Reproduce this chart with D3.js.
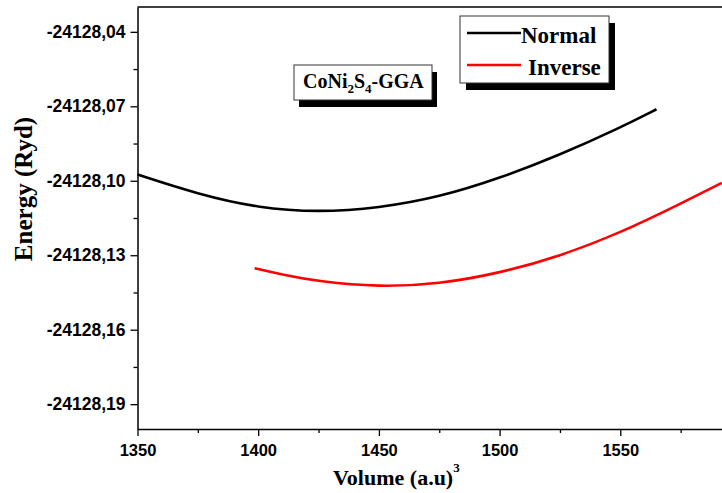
<!DOCTYPE html>
<html>
<head>
<meta charset="utf-8">
<script src="https://cdn.jsdelivr.net/npm/d3@7"></script>
<style>
  body { margin: 0; background: #fff; }
  svg { display: block; }
  .tick text { font-family: "Liberation Sans", Arial, sans-serif; font-weight: bold; fill: #000; }
  .serif { font-family: "Liberation Serif", "Times New Roman", serif; font-weight: bold; fill: #000; }
</style>
</head>
<body>
<svg id="chart" width="722" height="493"></svg>
<script>
// volumes (a.u)^3 and energies (Ryd)
var normalVol = [1350, 1375, 1400, 1425, 1450, 1475, 1500, 1525, 1550, 1565]
var normalE = [-24128.0975, -24128.1054, -24128.1110, -24128.1127, -24128.1110, -24128.1066, -24128.0990, -24128.0896, -24128.0786, -24128.0712]

var inverseVol = [1398.5, 1410, 1425, 1450, 1475, 1500, 1525, 1550, 1575, 1592]
var inverseE = [-24128.1352, -24128.1378, -24128.1406, -24128.1428, -24128.1416, -24128.1372, -24128.1304, -24128.1210, -24128.1092, -24128.1009]

var xMajor = [1350, 1400, 1450, 1500, 1550]
var xMinor = [1375, 1425, 1475, 1525, 1575]
var yMajor = [-24128.19, -24128.16, -24128.13, -24128.10, -24128.07, -24128.04]
var yMinor = [-24128.175, -24128.145, -24128.115, -24128.085, -24128.055]

var seriesNames = ["Normal", "Inverse"]
var seriesColors = ["#000000", "#ff0000"]

var svg = d3.select("#chart")

var x = d3.scaleLinear().domain([1350, 1600]).range([137.5, 741])
var y = d3.scaleLinear().domain([-24128.20, -24128.03]).range([429, 7])

// plain hyphen and decimal comma, like the original
var fmt = function(d) { return "-" + Math.abs(d).toFixed(2).replace(".", ",") }

// curves
var line = d3.line()
    .x(function(d) { return x(d[0]) })
    .y(function(d) { return y(d[1]) })
    .curve(d3.curveBasis)

var normalPts = normalVol.map(function(v, i) { return [v, normalE[i]] })
var inversePts = inverseVol.map(function(v, i) { return [v, inverseE[i]] })

svg.append("path").datum(normalPts)
    .attr("d", line).attr("fill", "none")
    .attr("stroke", seriesColors[0]).attr("stroke-width", 2.6)

svg.append("path").datum(inversePts)
    .attr("d", line).attr("fill", "none")
    .attr("stroke", seriesColors[1]).attr("stroke-width", 2.6)

// frame: top border
svg.append("line")
    .attr("x1", 137.5).attr("x2", 741).attr("y1", 7).attr("y2", 7)
    .attr("stroke", "#000").attr("stroke-width", 1.5)

// x axis
var xAxis = svg.append("g").attr("transform", "translate(0,429)")
    .call(d3.axisBottom(x).tickValues(xMajor).tickFormat(d3.format("d")).tickSize(7).tickPadding(8).tickSizeOuter(0))
xAxis.selectAll("text").style("font-size", "16.5px")
svg.append("g").attr("transform", "translate(0,429)")
    .call(d3.axisBottom(x).tickValues(xMinor).tickFormat("").tickSize(4).tickSizeOuter(0))
    .select(".domain").remove()

// y axis
var yAxis = svg.append("g").attr("transform", "translate(137.5,0)")
    .call(d3.axisLeft(y).tickValues(yMajor).tickFormat(fmt).tickSize(7).tickPadding(5).tickSizeOuter(0))
yAxis.selectAll("text").style("font-size", "17.5px")
svg.append("g").attr("transform", "translate(137.5,0)")
    .call(d3.axisLeft(y).tickValues(yMinor).tickFormat("").tickSize(4).tickSizeOuter(0))
    .select(".domain").remove()

svg.selectAll(".domain").attr("stroke-width", 1.5)
svg.selectAll(".tick line").attr("stroke-width", 1.3)

// axis titles
var xt = svg.append("text").attr("class", "serif")
    .attr("x", 333).attr("y", 485).style("font-size", "22px")
xt.append("tspan").text("Volume (a.u)")
xt.append("tspan").attr("dy", -13).style("font-size", "13px").text("3")

svg.append("text").attr("class", "serif")
    .attr("transform", "translate(32,189) rotate(-90)")
    .attr("text-anchor", "middle").style("font-size", "25px")
    .text("Energy (Ryd)")

// legend
svg.append("rect").attr("x", 466).attr("y", 23).attr("width", 149).attr("height", 67).attr("fill", "#000")
svg.append("rect").attr("x", 460).attr("y", 16).attr("width", 149).attr("height", 67)
    .attr("fill", "#fff").attr("stroke", "#333").attr("stroke-width", 1)

var legendY = [33, 65]
var legendTextX = [521, 528]
seriesNames.forEach(function(name, i) {
    svg.append("line")
        .attr("x1", 467).attr("x2", 521).attr("y1", legendY[i]).attr("y2", legendY[i])
        .attr("stroke", seriesColors[i]).attr("stroke-width", 2.6)
    svg.append("text").attr("class", "serif")
        .attr("x", legendTextX[i]).attr("y", legendY[i] + 10)
        .style("font-size", "23px")
        .text(name)
})

// compound label
svg.append("rect").attr("x", 299).attr("y", 72).attr("width", 138).attr("height", 35).attr("fill", "#000")
svg.append("rect").attr("x", 294).attr("y", 65).attr("width", 138).attr("height", 35)
    .attr("fill", "#fff").attr("stroke", "#333").attr("stroke-width", 1)

var lab = svg.append("text").attr("class", "serif")
    .attr("x", 303).attr("y", 88).style("font-size", "20px")
lab.append("tspan").text("CoNi")
lab.append("tspan").attr("dy", 5).style("font-size", "13px").text("2")
lab.append("tspan").attr("dy", -5).text("S")
lab.append("tspan").attr("dy", 5).style("font-size", "13px").text("4")
lab.append("tspan").attr("dy", -5).text("-GGA")
</script>
</body>
</html>
